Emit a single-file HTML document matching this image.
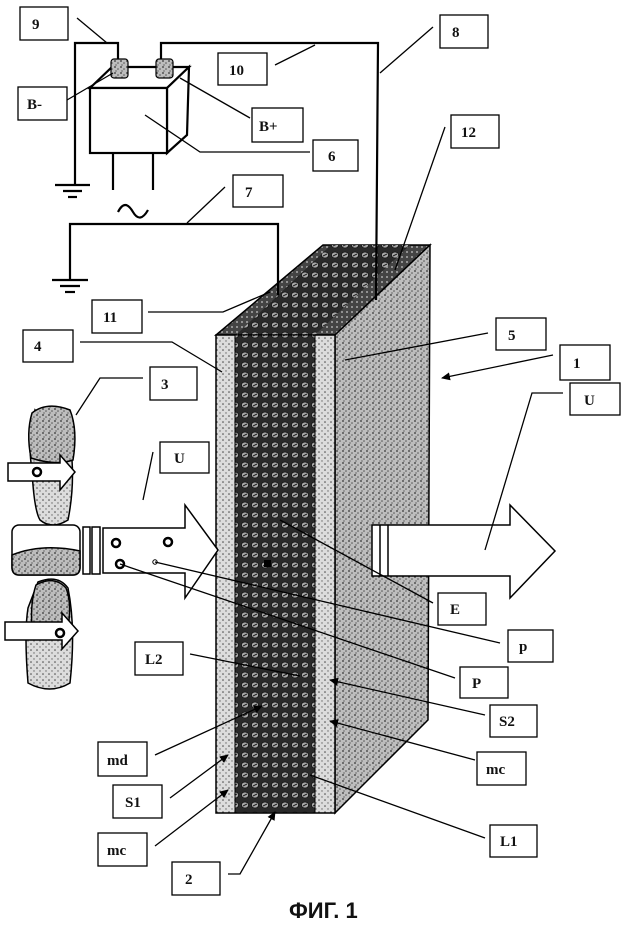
<!DOCTYPE html>
<html><head><meta charset="utf-8"><style>
html,body{margin:0;padding:0;background:#fff;}
svg{display:block}
text{font-family:"Liberation Serif",serif;font-size:15px;font-weight:bold;fill:#111}
</style></head><body>
<svg width="625" height="925" viewBox="0 0 625 925" xmlns="http://www.w3.org/2000/svg">
<defs>
<pattern id="spk" width="6" height="6" patternUnits="userSpaceOnUse">
<rect width="6" height="6" fill="#bdbdbd"/>
<circle cx="1" cy="1" r="0.9" fill="#333"/><circle cx="4" cy="3" r="0.8" fill="#555"/><circle cx="2" cy="5" r="0.6" fill="#333"/>
</pattern>
<pattern id="spk2" width="6" height="6" patternUnits="userSpaceOnUse">
<rect width="6" height="6" fill="#dcdcdc"/>
<circle cx="1" cy="2" r="0.8" fill="#444"/><circle cx="4" cy="5" r="0.7" fill="#666"/>
</pattern>
<pattern id="cir" width="10" height="10" patternUnits="userSpaceOnUse">
<rect width="10" height="10" fill="#2a2a2a"/>
<ellipse cx="5" cy="5" rx="3.6" ry="3" fill="#a8a8a8" stroke="#111" stroke-width="0.8"/>
<line x1="3" y1="6" x2="7" y2="4" stroke="#222" stroke-width="1"/>
</pattern>
<pattern id="dk" width="5" height="5" patternUnits="userSpaceOnUse">
<rect width="5" height="5" fill="#444"/><circle cx="2" cy="2" r="1" fill="#aaa"/>
</pattern>
<marker id="ah" markerWidth="9" markerHeight="8" refX="8" refY="4" orient="auto" markerUnits="userSpaceOnUse"><path d="M0,0L9,4L0,8z" fill="#000"/></marker>
</defs>

<!-- slab -->
<polygon points="216,335 335,335 430,245 323,245" fill="url(#dk)" stroke="#000" stroke-width="1.5"/>
<polygon points="236,335 315,335 410,245 331,245" fill="url(#cir)"/>
<polygon points="335,335 430,245 428,720 335,813" fill="url(#spk)" stroke="#000" stroke-width="1.5"/>
<rect x="216" y="335" width="119" height="478" fill="url(#spk2)" stroke="#000" stroke-width="1.5"/>
<rect x="235" y="335" width="80" height="478" fill="url(#cir)" stroke="#000"/>

<!-- wires -->
<g stroke="#000" stroke-width="2.2" fill="none">
<polyline points="75,185 75,43 118,43 118,60"/>
<polyline points="161,60 161,43 378,43 376,300"/>
<polyline points="70,280 70,224 278,224 278,295"/>
<line x1="113" y1="153" x2="113" y2="190"/><line x1="153" y1="153" x2="153" y2="190"/>
<line x1="55" y1="185" x2="90" y2="185"/><line x1="63" y1="191" x2="82" y2="191"/><line x1="68" y1="197" x2="77" y2="197"/>
<line x1="52" y1="280" x2="88" y2="280"/><line x1="60" y1="286" x2="80" y2="286"/><line x1="65" y1="292" x2="75" y2="292"/>
<path d="M118,212 q7,-14 15,0 q7,12 15,-2"/>
</g>
<!-- battery -->
<g stroke="#000" stroke-width="2.2" fill="#fff">
<polygon points="90,88 167,88 189,67 112,67"/>
<polygon points="167,88 189,67 187,135 167,153"/>
<rect x="90" y="88" width="77" height="65"/>
<rect x="111" y="59" width="17" height="19" rx="3" fill="url(#spk)" stroke-width="1.2"/>
<rect x="156" y="59" width="17" height="19" rx="3" fill="url(#spk)" stroke-width="1.2"/>
</g>

<!-- left hands and arrows -->
<g stroke="#000" stroke-width="1.5">
<path d="M35,410 q-8,30 -3,60 q2,40 8,50 q12,10 28,0 q6,-30 4,-60 z" fill="url(#spk2)"/>
<path d="M32,413 q15,-12 38,-3 q8,20 3,50 q-18,6 -42,-2 q-5,-25 1,-45z" fill="url(#spk)"/>
<path d="M38,582 q20,-8 30,6 q8,40 2,95 q-20,12 -42,0 q-4,-50 0,-75 z" fill="url(#spk2)"/>
<path d="M36,585 q18,-10 30,3 q6,15 2,40 q-18,4 -36,0 q-2,-25 4,-43z" fill="url(#spk)"/>
<rect x="12" y="525" width="68" height="50" rx="7" fill="#fff"/>
<path d="M12,555 q30,-12 68,-4 v16 q0,8 -7,8 h-54 q-7,0 -7,-8z" fill="url(#spk)"/>
<polygon points="8,463 60,463 60,455 75,472 60,490 60,481 8,481" fill="#fff"/>
<polygon points="5,622 62,622 62,613 78,631 62,649 62,640 5,640" fill="#fff"/>
<rect x="83" y="527" width="7" height="47" fill="#fff"/><rect x="92" y="527" width="8" height="47" fill="#fff"/>
<polygon points="103,528 185,528 185,505 218,550 185,598 185,573 103,573" fill="#fff"/>
<polygon points="372,525 510,525 510,505 555,551 510,598 510,576 372,576" fill="#fff"/>
<line x1="380" y1="525" x2="380" y2="576"/><line x1="388" y1="525" x2="388" y2="576"/>
</g>
<g fill="#fff" stroke="#000" stroke-width="2.5">
<circle cx="37" cy="472" r="4"/><circle cx="60" cy="633" r="4"/>
<circle cx="116" cy="543" r="4"/><circle cx="168" cy="542" r="4"/><circle cx="120" cy="564" r="4"/>
</g>
<circle cx="155" cy="562" r="2.2" fill="#fff" stroke="#000" stroke-width="1"/>
<rect x="264" y="560" width="7" height="7" fill="#000"/>

<!-- leader lines -->
<g stroke="#000" stroke-width="1.3" fill="none">
<line x1="77" y1="18" x2="107" y2="43"/>
<line x1="67" y1="100" x2="113" y2="73"/>
<line x1="275" y1="65" x2="315" y2="45"/>
<line x1="433" y1="27" x2="380" y2="73"/>
<line x1="250" y1="118" x2="180" y2="78"/>
<polyline points="310,152 200,152 145,115"/>
<line x1="225" y1="187" x2="187" y2="223"/>
<line x1="445" y1="127" x2="395" y2="270"/>
<polyline points="148,312 223,312 270,292"/>
<polyline points="80,342 172,342 222,372"/>
<polyline points="143,378 100,378 76,415"/>
<line x1="488" y1="333" x2="345" y2="360"/>
<line x1="553" y1="355" x2="442" y2="378" marker-end="url(#ah)"/>
<polyline points="563,393 532,393 485,550"/>
<line x1="153" y1="452" x2="143" y2="500"/>
<line x1="433" y1="603" x2="280" y2="520"/>
<line x1="500" y1="643" x2="155" y2="562"/>
<line x1="455" y1="678" x2="120" y2="564"/>
<polyline points="190,654 230,662 300,676"/>
<line x1="485" y1="715" x2="330" y2="680" marker-end="url(#ah)"/>
<line x1="475" y1="760" x2="330" y2="721" marker-end="url(#ah)"/>
<line x1="155" y1="755" x2="262" y2="706" marker-end="url(#ah)"/>
<line x1="170" y1="798" x2="228" y2="755" marker-end="url(#ah)"/>
<line x1="155" y1="846" x2="228" y2="790" marker-end="url(#ah)"/>
<line x1="485" y1="838" x2="310" y2="775"/>
<polyline points="228,874 240,874 275,812" marker-end="url(#ah)"/>
</g>

<!-- label boxes -->
<g fill="#fff" stroke="#000" stroke-width="1.3">
<rect x="20" y="7" width="48" height="33"/>
<rect x="440" y="15" width="48" height="33"/>
<rect x="218" y="53" width="49" height="32"/>
<rect x="18" y="87" width="49" height="33"/>
<rect x="252" y="108" width="51" height="34"/>
<rect x="451" y="115" width="48" height="33"/>
<rect x="313" y="140" width="45" height="31"/>
<rect x="233" y="175" width="50" height="32"/>
<rect x="92" y="300" width="50" height="33"/>
<rect x="23" y="330" width="50" height="32"/>
<rect x="150" y="367" width="47" height="33"/>
<rect x="496" y="318" width="50" height="32"/>
<rect x="560" y="345" width="50" height="35"/>
<rect x="570" y="383" width="50" height="32"/>
<rect x="160" y="442" width="49" height="31"/>
<rect x="438" y="593" width="48" height="32"/>
<rect x="508" y="630" width="45" height="32"/>
<rect x="135" y="642" width="48" height="33"/>
<rect x="460" y="667" width="48" height="31"/>
<rect x="490" y="705" width="47" height="32"/>
<rect x="98" y="742" width="49" height="34"/>
<rect x="477" y="752" width="49" height="33"/>
<rect x="113" y="785" width="49" height="33"/>
<rect x="98" y="833" width="49" height="33"/>
<rect x="490" y="825" width="47" height="32"/>
<rect x="172" y="862" width="48" height="33"/>
</g>
<g>
<text x="32" y="29">9</text><text x="452" y="37">8</text><text x="229" y="75">10</text>
<text x="27" y="109">B-</text><text x="259" y="131">B+</text><text x="461" y="137">12</text>
<text x="328" y="161">6</text><text x="245" y="197">7</text><text x="103" y="322">11</text>
<text x="34" y="351">4</text><text x="161" y="389">3</text><text x="508" y="340">5</text>
<text x="573" y="368">1</text><text x="584" y="405">U</text><text x="174" y="463">U</text>
<text x="450" y="614">E</text><text x="519" y="651">p</text><text x="145" y="664">L2</text>
<text x="472" y="688">P</text><text x="499" y="726">S2</text><text x="107" y="765">md</text>
<text x="486" y="774">mc</text><text x="125" y="807">S1</text><text x="107" y="855">mc</text>
<text x="500" y="846">L1</text><text x="185" y="884">2</text>
<text x="289" y="918" style="font-family:'Liberation Sans',sans-serif;font-size:22px">ФИГ. 1</text>
</g>
</svg>
</body></html>
